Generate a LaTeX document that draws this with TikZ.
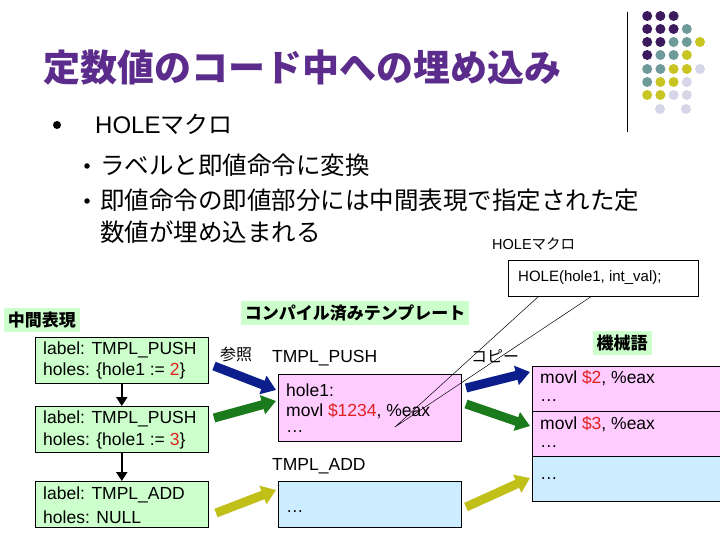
\documentclass[tikz,border=0pt]{standalone}
\usepackage{fontspec}
\setmainfont{Liberation Sans}
\newfontfamily\jp{Noto Sans CJK JP}
\usetikzlibrary{arrows.meta}
\definecolor{ttl}{HTML}{5B2C8C}
\definecolor{gbg}{HTML}{CCFFCC}
\definecolor{pbg}{HTML}{FFCCFF}
\definecolor{bbg}{HTML}{CCECFF}
\definecolor{dP}{HTML}{3D1A5E}
\definecolor{dT}{HTML}{6F9A9A}
\definecolor{dY}{HTML}{C8C421}
\definecolor{dL}{HTML}{D6D6E8}
\definecolor{aB}{HTML}{0B1E8C}
\definecolor{aG}{HTML}{1B7A1B}
\definecolor{aY}{HTML}{C0C018}
\definecolor{rd}{HTML}{E0201E}
\begin{document}
\begin{tikzpicture}[x=1pt,y=-1pt,
 box/.style={draw,line width=0.6pt,anchor=north west,inner sep=0pt},
 txt/.style={font=\fontsize{17.5}{20}\selectfont,anchor=west,inner sep=0pt},
 glab/.style={fill=gbg,font=\jp\bfseries\fontsize{17}{20}\selectfont,inner sep=4pt},
 fat/.style={line width=9pt,-{Triangle[length=14pt,width=19pt]},draw=#1},
 down/.style={line width=2.5pt,-{Triangle[length=9pt,width=11pt]}},
 dot/.style={circle,fill=#1,minimum size=10pt,inner sep=0pt},
 bul/.style={circle,fill=black,inner sep=0pt,minimum size=#1}]
\useasboundingbox (0,0) rectangle (720,540);
\fill[white] (0,0) rectangle (720,540);
% decoration
\draw[line width=0.8pt] (627,12) -- (627,132);
\foreach \r/\list in {16/{P,P,P},29/{P,P,P,T},42/{P,P,T,T,Y},55/{P,T,T,Y},69/{T,T,Y,Y,L},82/{T,Y,Y,L},95/{Y,Y,L,L}}{
 \foreach \c [count=\i] in \list {\node[dot=d\c] at (634+13.2*\i,\r) {};}}
\node[dot=dL] at (660,109) {}; \node[dot=dL] at (686,109) {};
% title
\node[anchor=west,inner sep=0pt,text=ttl,font=\jp\bfseries\fontsize{37}{40}\selectfont] (title) at (43,68) {定数値のコード中への埋め込み};
\node[bul=8pt] (b1) at (57,125) {};
\node[anchor=west,inner sep=0pt,font=\fontsize{24}{28}\selectfont] (t1) at (95,124) {HOLE{\jp マクロ}};
\node[bul=5.5pt] (b2) at (87,166) {};
\node[bul=5.5pt] (b3) at (87,201) {};
\node[anchor=west,inner sep=0pt,font=\jp\fontsize{24.5}{28}\selectfont] (t2) at (100,165) {ラベルと即値命令に変換};
\node[anchor=west,inner sep=0pt,font=\jp\fontsize{24.5}{28}\selectfont] (t3) at (100,200) {即値命令の即値部分には中間表現で指定された定};
\node[anchor=west,inner sep=0pt,font=\jp\fontsize{24.5}{28}\selectfont] (t4) at (100,232) {数値が埋め込まれる};
\node[anchor=west,inner sep=0pt,font=\fontsize{14.5}{16}\selectfont] (hm) at (492,244) {HOLE{\jp マクロ}};
% callout
\coordinate (tip) at (395,427);
\filldraw[fill=white,line width=0.6pt] (508,260) rectangle (698,296);
\node[txt,font=\fontsize{15}{16}\selectfont] (hole) at (518,278) {HOLE(hole1, int\_val);};
% labels
\node[glab] (lm) at (42,320) {中間表現};
\node[glab] (lc) at (355,313) {コンパイル済みテンプレート};
\node[glab] (lk) at (622,343) {機械語};
% left boxes
\foreach \n/\y in {g1/337,g2/406,g3/481}{\node[box,fill=gbg,minimum width=173pt,minimum height=46pt] (\n) at (35,\y) {};}
\node[txt] at (43,350) {label: TMPL\_PUSH};
\node[txt] at (43,371) {holes: \{hole1 := {\color{rd}2}\}};
\node[txt] at (43,419) {label: TMPL\_PUSH};
\node[txt] at (43,441) {holes: \{hole1 := {\color{rd}3}\}};
\node[txt] at (43,495) {label: TMPL\_ADD};
\node[txt] at (43,517) {holes: NULL};
\draw[down] (g1.south) -- (g2.north);
\draw[down] (g2.south) -- (g3.north);
% middle
\node[txt,font=\jp\fontsize{16}{18}\selectfont] (ref) at (220,354) {参照};
\node[txt] at (272,358) {TMPL\_PUSH};
\node[box,fill=pbg,minimum width=183pt,minimum height=67pt] (pm) at (278,374) {};
\node[txt] at (286,390) {hole1:};
\node[txt] at (286,411) {movl {\color{rd}\$1234}, \%eax};
\node[txt] at (286,432) {\ldots};
\node[txt] at (272,466) {TMPL\_ADD};
\node[box,fill=bbg,minimum width=183pt,minimum height=46pt] (bm) at (278,481) {};
\node[txt] at (286,512) {\ldots};
\draw[line width=0.5pt] (539,296) -- (tip) -- (592,296);
% right
\node[txt,font=\jp\fontsize{16}{18}\selectfont] (copy) at (471,356) {コピー};
\node[box,fill=pbg,minimum width=195pt,minimum height=45pt] (r1) at (532,366) {};
\node[box,fill=pbg,minimum width=195pt,minimum height=45pt] (r2) at (532,411) {};
\node[box,fill=bbg,minimum width=195pt,minimum height=45pt] (r3) at (532,456) {};
\node[txt] at (540,378) {movl {\color{rd}\$2}, \%eax};
\node[txt] at (540,401) {\ldots};
\node[txt] at (540,424) {movl {\color{rd}\$3}, \%eax};
\node[txt] at (540,447) {\ldots};
\node[txt] at (540,479) {\ldots};
% fat arrows
\coordinate (a1s) at (214,366); \coordinate (a1e) at (276,390);
\coordinate (a2s) at (214,418); \coordinate (a2e) at (276,401);
\coordinate (a3s) at (216,513); \coordinate (a3e) at (276,490);
\coordinate (a4s) at (466,388); \coordinate (a4e) at (530,372);
\coordinate (a5s) at (466,404); \coordinate (a5e) at (530,426);
\coordinate (a6s) at (466,507); \coordinate (a6e) at (530,478);
\draw[fat=aB] (a1s) -- (a1e);
\draw[fat=aG] (a2s) -- (a2e);
\draw[fat=aY] (a3s) -- (a3e);
\draw[fat=aB] (a4s) -- (a4e);
\draw[fat=aG] (a5s) -- (a5e);
\draw[fat=aY] (a6s) -- (a6e);
\end{tikzpicture}
\end{document}
